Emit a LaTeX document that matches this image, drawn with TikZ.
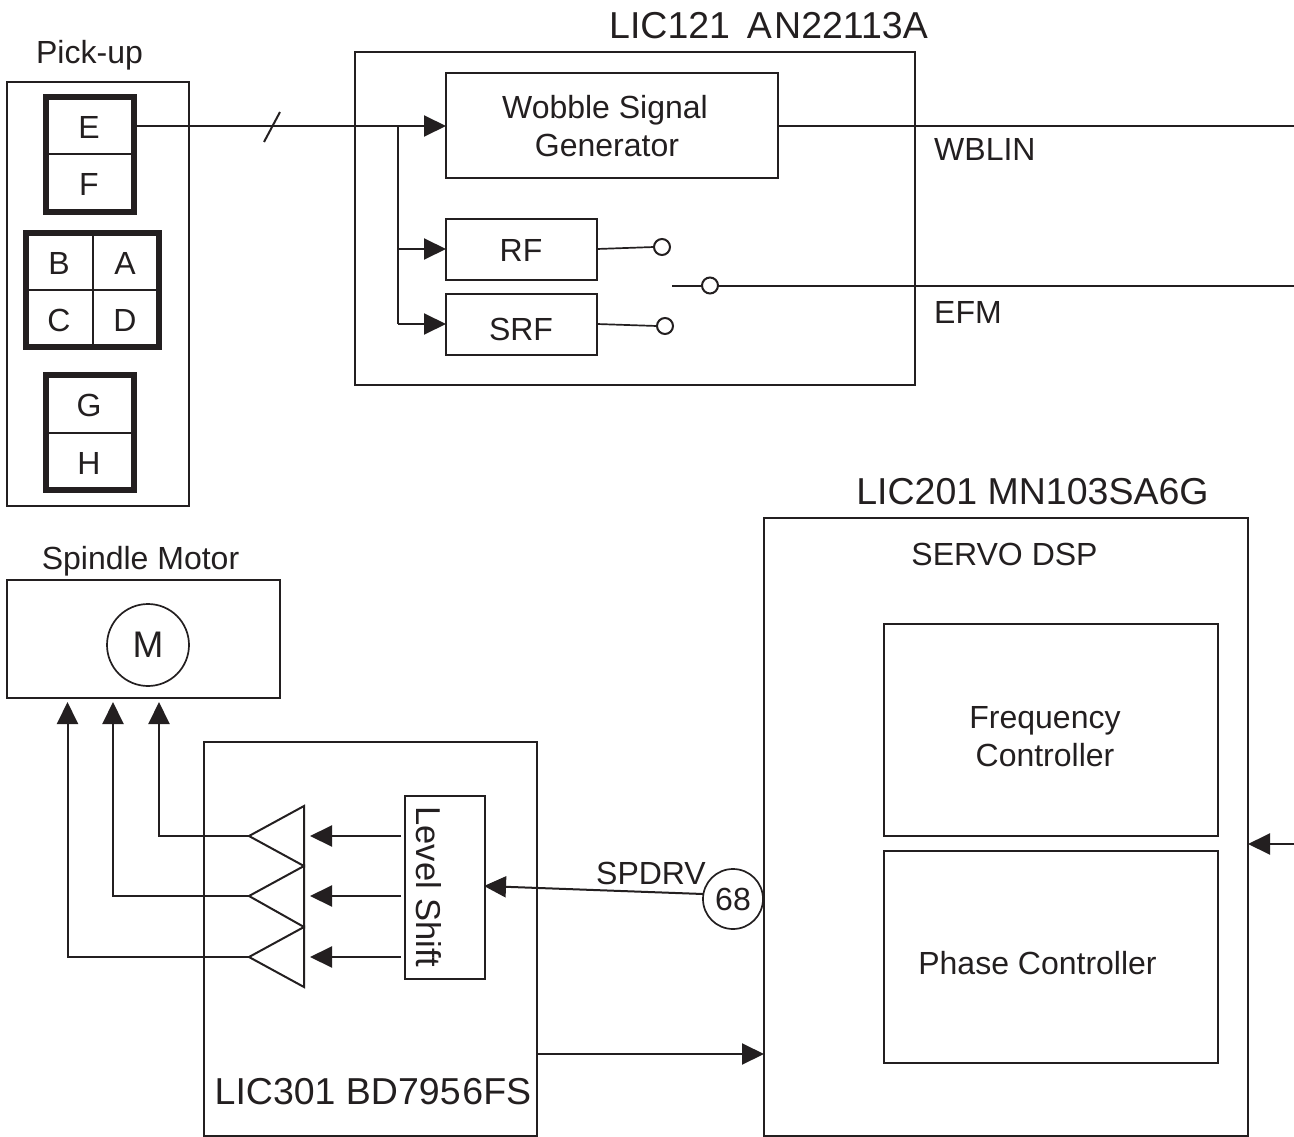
\documentclass[tikz,border=0pt]{standalone}
\usepackage{fontspec}
\setmainfont{Liberation Sans}
\usetikzlibrary{arrows.meta}
\definecolor{ink}{HTML}{231F20}
\newcommand{\fsz}[1]{\fontsize{#1}{#1}\selectfont}
\tikzset{
  box/.style={draw=ink,line width=2pt,inner sep=0pt,outer sep=0pt,fill=none,text=ink},
  heavy/.style={draw=ink,line width=6pt,inner sep=0pt,outer sep=3pt},
  wire/.style={draw=ink,line width=2pt},
  fine/.style={draw=ink,line width=1.7pt},
  arr/.style={wire,-{Triangle[length=22pt,width=21pt]}},
  lbl/.style={inner sep=0pt,text=ink,font=\fsz{32},align=center},
  title/.style={inner sep=0pt,text=ink,font=\fsz{37.5}},
  term/.style={circle,draw=ink,line width=2pt,fill=white,minimum size=16pt,inner sep=0pt,outer sep=0pt},
}
\begin{document}
\begin{tikzpicture}[x=1pt,y=-1pt]
\useasboundingbox (0,0) rectangle (1294,1137);
% pick-up
\node[box,minimum width=182pt,minimum height=424pt] (pick) at (98,294) {};
\node[lbl] (picklbl) at (89.5,55) {Pick-up};
\node[heavy,minimum width=88pt,minimum height=115pt] (ef) at (90,154.5) {};
\node[heavy,minimum width=133pt,minimum height=114pt] (abcd) at (92.5,290) {};
\node[heavy,minimum width=88pt,minimum height=115pt] (gh) at (90,432.5) {};
\draw[wire] (ef.west) -- (ef.east);
\draw[wire] (gh.west) -- (gh.east);
\draw[wire] (abcd.west) -- (abcd.east);
\draw[wire] (abcd.north) -- (abcd.south);
\node[lbl] (e) at (89,127.5) {E};
\node[lbl] (f) at (89,184.5) {F};
\node[lbl] (b) at (59,263.5) {B};
\node[lbl] (a) at (125,263.5) {A};
\node[lbl] (c) at (59,320.5) {C};
\node[lbl] (d) at (125,320.5) {D};
\node[lbl] (g) at (89,405.5) {G};
\node[lbl] (h) at (89,463.5) {H};
% LIC121
\node[title] (t121) at (768.5,26) {LIC121\hspace{.45em}A\hspace{.06em}N22113A};
\node[box,minimum width=560pt,minimum height=333pt] (lic121) at (635,218.5) {};
\node[box,minimum width=332pt,minimum height=105pt] (wob) at (612,125.5) {};
\node[lbl] (wobt) at (605,126.5) {Wobble Signal\\[6pt]\hspace{4pt}Generator};
\node[box,lbl,minimum width=151pt,minimum height=61pt] (rf) at (521.5,249) {};
\node[lbl] (rft) at (521,250) {RF};
\node[box,lbl,minimum width=151pt,minimum height=61pt] (srf) at (521.5,324) {};
\node[lbl] (srft) at (521,329.5) {SRF};
\node[term] (trf) at (662,247) {};
\node[term] (tsrf) at (665,326) {};
\node[term] (tc) at (710,285.5) {};
\coordinate (eout) at (137,126);
\coordinate (jtop) at (398,126);
\coordinate (jrf) at (398,249);
\coordinate (jsrf) at (398,324);
\coordinate (sl1) at (264,142);
\coordinate (sl2) at (280,112);
\coordinate (wbout) at (1294,126);
\coordinate (efin) at (672,285.5);
\coordinate (efout) at (1294,285.5);
\draw[arr] (eout) -- (wob.west |- eout);
\draw[wire] (sl1) -- (sl2);
\draw[wire] (jtop) -- (jsrf);
\draw[arr] (jrf) -- (rf.west);
\draw[arr] (jsrf) -- (srf.west);
\draw[fine] (rf.east) -- (trf.west);
\draw[fine] (srf.east) -- (tsrf.west);
\draw[wire] (efin) -- (tc.west);
\draw[wire] (tc.east) -- (efout);
\draw[wire] (wob.east |- wbout) -- (wbout);
\node[lbl,anchor=west] (wblin) at (934,149.5) {WBLIN};
\node[lbl,anchor=west] (efm) at (934,312.5) {EFM};
% spindle
\node[lbl] (spl) at (140.5,561) {Spindle Motor};
\node[box,minimum width=273pt,minimum height=118pt] (spin) at (143.5,639) {};
\node[circle,draw=ink,line width=1.7pt,minimum size=82pt,inner sep=0pt,outer sep=0pt,text=ink,font=\fsz{37}] (m) at (148,645) {M};
% LIC301
\node[box,minimum width=333pt,minimum height=394pt] (lic301) at (370.5,939) {};
\node[title] (t301) at (373,1092) {LIC301 BD795\hspace{.05em}6FS};
\node[box,minimum width=80pt,minimum height=183pt] (ls) at (444.5,887.5) {};
\node[lbl,rotate=-90,font=\fsz{34.5}] (lst) at (429,887) {Level Shift};
% buffers
\coordinate (t1a) at (249,836); \coordinate (t1b) at (304,806); \coordinate (t1c) at (304,866);
\coordinate (t2a) at (249,896); \coordinate (t2b) at (304,866); \coordinate (t2c) at (304,927);
\coordinate (t3a) at (249,957); \coordinate (t3b) at (304,927); \coordinate (t3c) at (304,987);
\draw[wire,line join=miter] (t1a) -- (t1b) -- (t1c) -- cycle;
\draw[wire,line join=miter] (t2a) -- (t2b) -- (t2c) -- cycle;
\draw[wire,line join=miter] (t3a) -- (t3b) -- (t3c) -- cycle;
\coordinate (i1s) at (401,836); \coordinate (i1e) at (310,836);
\coordinate (i2s) at (401,896); \coordinate (i2e) at (310,896);
\coordinate (i3s) at (401,957); \coordinate (i3e) at (310,957);
\draw[arr] (i1s) -- (i1e);
\draw[arr] (i2s) -- (i2e);
\draw[arr] (i3s) -- (i3e);
\coordinate (o1) at (159,702); \coordinate (o2) at (113,702); \coordinate (o3) at (67.5,702);
\draw[arr] (t1a) -| (o1);
\draw[arr] (t2a) -| (o2);
\draw[arr] (t3a) -| (o3);
% LIC201
\node[title] (t201) at (1032.5,492) {LIC201 MN103SA6G};
\node[box,minimum width=484pt,minimum height=618pt] (lic201) at (1006,827) {};
\node[lbl] (servo) at (1004.5,554) {SERVO DSP};
\node[box,minimum width=334pt,minimum height=212pt] (freq) at (1051,730) {};
\node[lbl] (freqt) at (1045,736.5) {Frequency\\[6pt]Controller};
\node[box,minimum width=334pt,minimum height=212pt] (phase) at (1051,957) {};
\node[lbl] (phaset) at (1037.5,963.5) {Phase Controller};
\node[circle,draw=ink,line width=1.7pt,fill=white,minimum size=60pt,inner sep=0pt,outer sep=0pt,text=ink,font=\fsz{32}] (pin) at (733,899) {68};
\node[lbl] (spdrv) at (651,873) {SPDRV};
\coordinate (lsin) at (484,886);
\draw[arr] (pin.west |- 0,894) -- (lsin);
\coordinate (a301) at (537,1054);
\draw[arr] (a301) -- (lic201.west |- a301);
\coordinate (fb) at (1294,844);
\draw[arr] (fb) -- (lic201.east |- fb);
\end{tikzpicture}
\end{document}
